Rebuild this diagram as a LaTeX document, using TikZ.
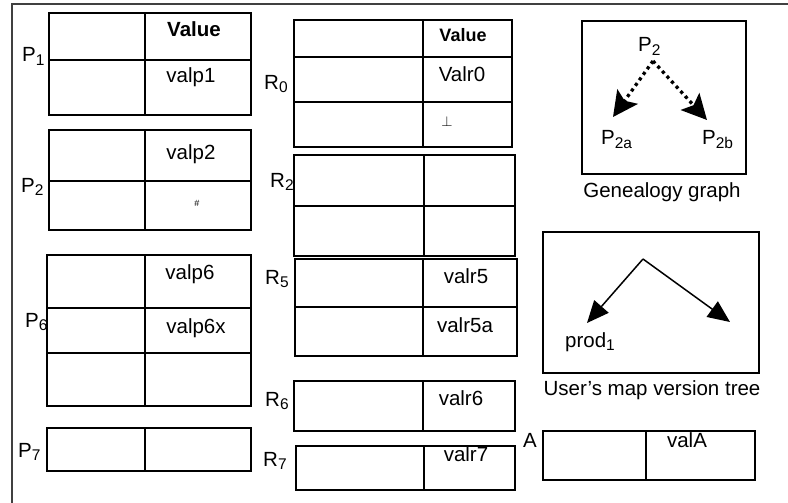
\documentclass[tikz,border=0pt]{standalone}
\usepackage{fontspec}
\setmainfont{Liberation Sans}
\usetikzlibrary{arrows.meta}
\newcommand\sbx[1]{\raisebox{-3.5pt}{\fontsize{15.5}{16}\selectfont #1}}
\begin{document}
\begin{tikzpicture}[x=1pt,y=-1pt,
  tbl/.style={line width=1.3pt, draw=black},
  frame/.style={line width=1.6pt, draw=black!75},
  txt/.style={inner sep=0pt, anchor=base, font=\fontsize{20.5}{24}\selectfont},
  lbl/.style={inner sep=0pt, anchor=base west, font=\fontsize{20.5}{24}\selectfont},
  dotarrow/.style={line width=3.3pt, dash pattern=on 3.2pt off 3.6pt,
    -{Stealth[length=25pt,width=25pt,inset=5pt]}},
  solidarrow/.style={line width=1.5pt, -{Triangle[length=22pt,width=19pt]}},
  boxln/.style={line width=1.5pt, draw=black}]
\useasboundingbox (0,0) rectangle (788,503);
% open outer frame
\draw[frame] (12,503) -- (12,4) -- (788,4);

% P tables
\draw[tbl] (49,13) rectangle (251,115) (49,60) -- (251,60) (145,13) -- (145,115);
\draw[tbl] (49,130) rectangle (251,230) (49,181) -- (251,181) (145,130) -- (145,230);
\draw[tbl] (47,255) rectangle (251,406) (47,308) -- (251,308) (47,353) -- (251,353) (145,255) -- (145,406);
\draw[tbl] (47,428) rectangle (251,471) (145,428) -- (145,471);

% R tables
\draw[tbl] (294,20) rectangle (512,147) (294,57) -- (512,57) (294,102) -- (512,102) (423,20) -- (423,147);
\draw[tbl] (294,155) rectangle (515,256) (294,206) -- (515,206) (424,155) -- (424,256);
\draw[tbl] (295,259) rectangle (517,356) (295,307) -- (517,307) (423,259) -- (423,356);
\draw[tbl] (294,381) rectangle (515,431) (423,381) -- (423,431);
\draw[tbl] (296,446) rectangle (515,490) (424,446) -- (424,490);

% A table
\draw[tbl] (543,431) rectangle (755,480) (646,431) -- (646,480);

% graph boxes
\draw[boxln] (582,21) rectangle (746,174);
\draw[boxln] (543,232) rectangle (759,373);

% P labels
\node[lbl] (lp1) at (22,62) {P\sbx{1}};
\node[lbl] (lp2) at (21,192) {P\sbx{2}};
\node[lbl] (lp6) at (25,327) {P\sbx{6}};
\node[lbl] (lp7) at (18,457) {P\sbx{7}};
% R labels
\node[lbl] (lr0) at (264,89) {R\sbx{0}};
\node[lbl] (lr2) at (270,187) {R\sbx{2}};
\node[lbl] (lr5) at (265,284) {R\sbx{5}};
\node[lbl] (lr6) at (265,406) {R\sbx{6}};
\node[lbl] (lr7) at (263,466) {R\sbx{7}};
\node[lbl] (la) at (523,447) {A};

% cell texts
\node[txt, font=\fontsize{20.5}{24}\selectfont\bfseries] (v1) at (194,37) {Value};
\node[txt] (vp1) at (191,83) {valp1};
\node[txt] (vp2) at (191,159) {valp2};
\node[inner sep=0pt, anchor=base, font=\fontsize{9}{10}\selectfont] (hash) at (197,206.5) {\#};
\node[txt] (vp6) at (190,279) {valp6};
\node[txt] (vp6x) at (196,333) {valp6x};
\node[txt, font=\fontsize{18}{22}\selectfont\bfseries] (v0) at (463,42) {Value};
\node[txt] (vr0) at (462,82) {Valr0};
\node[inner sep=0pt, anchor=base, font=\fontsize{14}{16}\selectfont] (bot) at (447,127) {$\perp$};
\node[txt] (vr5) at (466,283) {valr5};
\node[txt] (vr5a) at (465,332) {valr5a};
\node[txt] (vr6) at (461,405) {valr6};
\node[txt] (vr7) at (466,461) {valr7};
\node[txt] (va) at (687,447) {valA};

% genealogy graph
\node[lbl] (gp2) at (638,52) {P\sbx{2}};
\node[lbl] (gp2a) at (601,145) {P\sbx{2a}};
\node[lbl] (gp2b) at (702,145) {P\sbx{2b}};
\coordinate (gtop) at (653,61);
\coordinate (gl) at (613,117);
\coordinate (gr) at (707,120);
\draw[dotarrow] (gtop) -- (gl);
\draw[dotarrow] (gtop) -- (gr);
\node[txt] (gcap) at (662,197) {Genealogy graph};

% user's map version tree
\coordinate (utop) at (643,259);
\coordinate (ul) at (587,323);
\coordinate (ur) at (730,322);
\draw[solidarrow] (utop) -- (ul);
\draw[solidarrow] (utop) -- (ur);
\node[lbl] (prod) at (565,347) {prod\sbx{1}};
\node[txt] (ucap) at (652,395) {User’s map version tree};
\end{tikzpicture}
\end{document}
